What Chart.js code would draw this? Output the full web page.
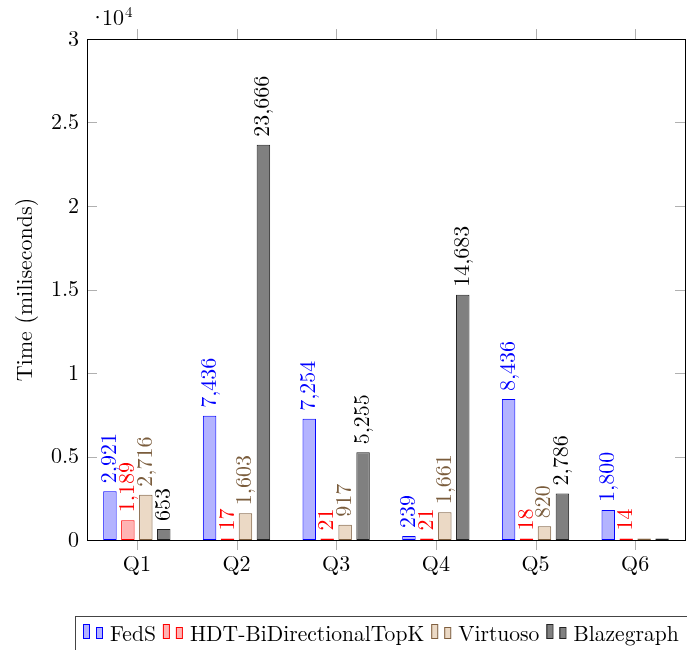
<!DOCTYPE html>
<html lang="en">
<head>
    <meta charset="UTF-8">
    <title>Query times</title>
    <script src="https://cdn.jsdelivr.net/npm/chart.js@4.4.1/dist/chart.umd.min.js"></script>
    <style>
        body {
            margin: 0;
            background: #fff;
        }
        #wrap {
            width: 687px;
            height: 650px;
        }
    </style>
</head>
<body>
    <div id="wrap">
        <canvas id="timeChart" width="687" height="650"></canvas>
    </div>

    <script>
        // Data
        const queries = ['Q1', 'Q2', 'Q3', 'Q4', 'Q5', 'Q6'];
        const fedsTimes = [2921, 7436, 7254, 239, 8436, 1800];
        const hdtTimes = [1189, 17, 21, 21, 18, 14];
        const virtuosoTimes = [2716, 1603, 917, 1661, 820, 0];
        const blazegraphTimes = [653, 23666, 5255, 14683, 2786, 0];
        const yTicks = [0, 5000, 10000, 15000, 20000, 25000, 30000];

        const serif = '"Latin Modern Roman", "Liberation Serif", serif';
        const fontSize = 22;

        const series = [
            { label: 'FedS', data: fedsTimes, fill: '#b3b3ff', line: '#0000ff', text: '#0000ff' },
            { label: 'HDT-BiDirectionalTopK', data: hdtTimes, fill: '#ffb3b3', line: '#ff0000', text: '#ff0000' },
            { label: 'Virtuoso', data: virtuosoTimes, fill: '#ebd9c5', line: '#7f5f3f', text: '#7a5c3c' },
            { label: 'Blazegraph', data: blazegraphTimes, fill: '#808080', line: '#222222', text: '#000000' }
        ];

        // Labels over bars, frame, ticks, exponent and legend box
        const extras = {
            id: 'extras',
            afterDraw(chart) {
                const ctx = chart.ctx;
                const area = chart.chartArea;
                const xs = chart.scales.x;
                const ys = chart.scales.y;
                ctx.save();

                // values over each bar, rotated
                ctx.font = fontSize + 'px ' + serif;
                series.forEach((s, i) => {
                    chart.getDatasetMeta(i).data.forEach((bar, j) => {
                        const v = s.data[j];
                        if (!v) return;
                        ctx.save();
                        ctx.translate(bar.x, bar.y - 8);
                        ctx.rotate(-Math.PI / 2);
                        ctx.fillStyle = s.text;
                        ctx.textAlign = 'left';
                        ctx.textBaseline = 'alphabetic';
                        ctx.fillText(v.toLocaleString('en-US'), 0, 6);
                        ctx.restore();
                    });
                });

                // tick marks
                ctx.strokeStyle = '#b0b0b0';
                ctx.lineWidth = 1;
                ctx.beginPath();
                yTicks.forEach(t => {
                    const py = Math.round(ys.getPixelForValue(t)) + 0.5;
                    ctx.moveTo(area.left, py);
                    ctx.lineTo(area.left + 10, py);
                    ctx.moveTo(area.right, py);
                    ctx.lineTo(area.right - 10, py);
                });
                queries.forEach((q, i) => {
                    const px = Math.round(xs.getPixelForValue(i)) + 0.5;
                    ctx.moveTo(px, area.bottom);
                    ctx.lineTo(px, area.bottom + 10);
                    ctx.moveTo(px, area.top);
                    ctx.lineTo(px, area.top - 10);
                });
                ctx.stroke();

                // frame
                ctx.strokeStyle = '#000';
                ctx.strokeRect(Math.round(area.left) + 0.5, Math.round(area.top) + 0.5,
                    Math.round(area.right - area.left), Math.round(area.bottom - area.top));

                // exponent
                ctx.fillStyle = '#000';
                ctx.textAlign = 'left';
                ctx.textBaseline = 'alphabetic';
                ctx.font = fontSize + 'px ' + serif;
                ctx.fillText('\u00b7', area.left + 2, 25);
                ctx.fillText('10', area.left + 15, 25);
                const w = ctx.measureText('10').width;
                ctx.font = '15px ' + serif;
                ctx.fillText('4', area.left + 15 + w + 1, 17);

                // legend
                ctx.strokeStyle = '#444';
                ctx.strokeRect(75.5, 616.5, 700, 60);
                let lx = 83;
                const base = 641;
                ctx.font = '21.6px ' + serif;
                series.forEach(s => {
                    ctx.fillStyle = s.fill;
                    ctx.strokeStyle = s.line;
                    ctx.fillRect(lx, base - 17, 6, 15);
                    ctx.strokeRect(lx + 0.5, base - 16.5, 6, 14);
                    ctx.fillRect(lx + 13, base - 14, 6, 12);
                    ctx.strokeRect(lx + 13.5, base - 13.5, 6, 11);
                    lx += 27;
                    ctx.fillStyle = '#000';
                    ctx.fillText(s.label, lx, base);
                    lx += ctx.measureText(s.label).width + 7;
                });

                ctx.restore();
            }
        };

        const ctx = document.getElementById('timeChart').getContext('2d');
        const chart = new Chart(ctx, {
            type: 'bar',
            data: {
                labels: queries,
                datasets: series.map(s => ({
                    label: s.label,
                    data: s.data,
                    backgroundColor: s.fill,
                    borderColor: s.line,
                    borderWidth: 1,
                    borderSkipped: false,
                    minBarLength: 1.5,
                    categoryPercentage: 0.72,
                    barPercentage: 0.75
                }))
            },
            options: {
                responsive: false,
                animation: false,
                layout: {
                    padding: { top: 39, right: 2, bottom: 60, left: 0 }
                },
                scales: {
                    x: {
                        grid: { display: false, drawTicks: false },
                        border: { display: false },
                        ticks: {
                            color: '#000',
                            padding: 11,
                            font: { family: serif, size: fontSize }
                        },
                        afterFit: s => { s.height = 50; }
                    },
                    y: {
                        min: 0,
                        max: 30000,
                        grid: { display: false, drawTicks: false },
                        border: { display: false },
                        afterBuildTicks: s => { s.ticks = yTicks.map(v => ({ value: v })); },
                        ticks: {
                            color: '#000',
                            padding: 8,
                            font: { family: serif, size: fontSize },
                            callback: v => String(v / 10000)
                        },
                        title: {
                            display: true,
                            text: 'Time (miliseconds)',
                            color: '#000',
                            font: { family: serif, size: fontSize },
                            padding: { top: 12, bottom: 0 }
                        },
                        afterFit: s => { s.width = 87; }
                    }
                },
                plugins: {
                    legend: { display: false },
                    tooltip: { enabled: false }
                }
            },
            plugins: [extras]
        });
    </script>
</body>
</html>
